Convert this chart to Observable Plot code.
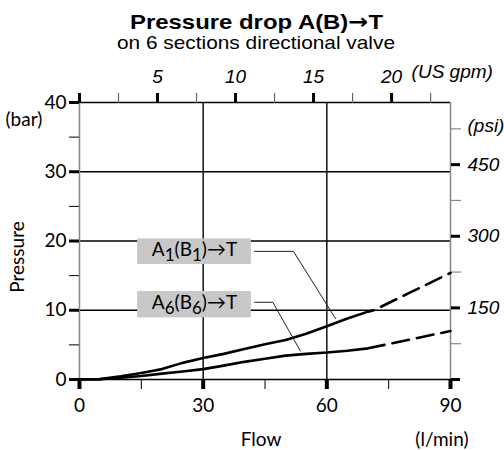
<!DOCTYPE html>
<html>
<head>
<meta charset="utf-8">
<script src="https://cdn.jsdelivr.net/npm/d3@7"></script>
<script src="https://cdn.jsdelivr.net/npm/@observablehq/plot@0.6"></script>
<style>
  html, body { margin: 0; padding: 0; background: #fff; }
  #wrap { position: relative; width: 504px; height: 450px; overflow: hidden; background: #fff; }
  .ttl { position: absolute; white-space: nowrap; transform-origin: 0 0; color: #000; line-height: 1; }
  #title { font: bold 21px "Liberation Sans", Arial, sans-serif; top: 9.5px; }
  #title .arr { font-family: "DejaVu Sans", sans-serif; font-weight: bold; }
  #subtitle { font: 19px "Liberation Sans", Arial, sans-serif; top: 32px; }
  #chart { position: absolute; left: 0; top: 62px; }
</style>
</head>
<body>
<div id="wrap">
  <span id="title" class="ttl">Pressure drop A(B)<span class="arr">→</span>T</span>
  <span id="subtitle" class="ttl">on 6 sections directional valve</span>
  <div id="chart"></div>
</div>
<script>
// ---- data ----
const flowA1 = [0, 5, 10, 15, 20, 25, 30, 35, 40, 45, 50, 55, 60, 65, 70, 71.4];
const dropA1 = [0, 0.05, 0.45, 0.95, 1.5, 2.4, 3.1, 3.7, 4.4, 5.1, 5.7, 6.6, 7.7, 8.8, 9.8, 10.0];
const flowA1Dashed = [71.4, 80, 90];
const dropA1Dashed = [10.0, 12.5, 15.4];

const flowA6 = [0, 5, 10, 15, 20, 25, 30, 35, 40, 45, 50, 55, 60, 65, 70, 74];
const dropA6 = [0, 0.05, 0.25, 0.5, 0.85, 1.15, 1.5, 2.0, 2.55, 3.0, 3.45, 3.7, 3.9, 4.15, 4.5, 5.0];
const flowA6Dashed = [74, 82, 90];
const dropA6Dashed = [5.0, 6.0, 7.0];

// axis ticks
const flowMajor = [0, 30, 60, 90];
const flowMinor = [15, 45, 75];
const barMajor = [0, 10, 20, 30, 40];
const barMinor = [5, 15, 25, 35];
const gridBar = [10, 20, 30, 40];
const gridFlow = [30, 60];
const gpmMajor = [0, 5, 10, 15, 20];
const gpmMinor = [2.5, 7.5, 12.5, 17.5, 22.5];
const psiMajor = [0, 150, 300, 450];
const psiMinor = [75, 225, 375, 525];
const LPM_PER_GPM = 3.78541;
const PSI_PER_BAR = 14.5038;

// curve labels (annotation boxes in data units)
const labelParts = [["A", "1", "(B", "1", ")→T"], ["A", "6", "(B", "6", ")→T"]];
const labelFlow1 = [14.1, 14.1];
const labelFlow2 = [41.7, 41.7];
const labelBarTop = [20.3, 12.7];
const labelBarBottom = [16.6, 8.9];
const leaderA1Flow = [42.5, 51.9, 62.1];
const leaderA1Bar = [18.5, 18.5, 8.8];
const leaderA6Flow = [42.5, 46.9, 53.6];
const leaderA6Bar = [11.15, 11.15, 4.1];

// ---- tables built from arrays ----
const zip = (xs, ys) => xs.map((x, i) => ({x, y: ys[i]}));
const a1 = zip(flowA1, dropA1), a1d = zip(flowA1Dashed, dropA1Dashed);
const a6 = zip(flowA6, dropA6), a6d = zip(flowA6Dashed, dropA6Dashed);
const lead1 = zip(leaderA1Flow, leaderA1Bar), lead6 = zip(leaderA6Flow, leaderA6Bar);
const labels = labelParts.map((p, i) => ({
  text: p.join(""), parts: p,
  x1: labelFlow1[i], x2: labelFlow2[i], y1: labelBarTop[i], y2: labelBarBottom[i]
}));

const sans = "Lato, 'Open Sans', sans-serif";
const ital = "'Liberation Sans', Arial, sans-serif";

const chart = Plot.plot({
  width: 504, height: 388,
  marginLeft: 79, marginRight: 54, marginTop: 40, marginBottom: 71,
  x: {domain: [0, 90]},
  y: {domain: [0, 40]},
  style: {fontFamily: sans, fontSize: "19px", color: "black", background: "white", overflow: "visible"},
  marks: [
    // grid
    Plot.ruleY(gridBar, {stroke: "black", strokeWidth: 1.4}),
    Plot.ruleX(gridFlow, {stroke: "black", strokeWidth: 1.4}),
    Plot.ruleX([0, 90], {stroke: "#888", strokeWidth: 1.5}),
    Plot.ruleY([0], {stroke: "black", strokeWidth: 1.4, insetLeft: -10, insetRight: -10}),
    // left axis
    Plot.axisY({ticks: barMinor, tickSize: 10, strokeWidth: 1, tickFormat: () => "", label: null}),
    Plot.axisY({ticks: barMajor, tickSize: 10, strokeWidth: 3, tickPadding: 3, label: null,
      fontFamily: sans, fontSize: 19}),
    // bottom axis
    Plot.axisX({ticks: flowMinor, tickSize: 10, strokeWidth: 1, tickFormat: () => "", label: null}),
    Plot.axisX({ticks: flowMajor, tickSize: 10, strokeWidth: 4, tickPadding: 9, label: null,
      fontFamily: sans, fontSize: 19}),
    // top axis (US gpm)
    Plot.axisX({anchor: "top", ticks: gpmMinor.map(g => g * LPM_PER_GPM), tickSize: 10, stroke: "#666",
      strokeWidth: 1.2, tickFormat: () => "", label: null}),
    Plot.axisX({anchor: "top", ticks: gpmMajor.map(g => g * LPM_PER_GPM), tickSize: 10, strokeWidth: 3,
      tickPadding: 10, label: null, fontFamily: ital, fontStyle: "italic", fontSize: 19,
      tickFormat: d => { const g = Math.round(d / LPM_PER_GPM); return g === 0 ? "" : String(g); }}),
    Plot.text(["(US gpm)"], {x: 20 * LPM_PER_GPM, y: 40, dx: 20, dy: -25, textAnchor: "start",
      lineAnchor: "bottom", fontFamily: ital, fontStyle: "italic", fontSize: 19}),
    // right axis (psi)
    Plot.axisY({anchor: "right", ticks: psiMinor.map(p => p / PSI_PER_BAR), tickSize: 10, stroke: "#888",
      strokeWidth: 1.2, tickFormat: () => "", label: null}),
    Plot.axisY({anchor: "right", ticks: psiMajor.map(p => p / PSI_PER_BAR), tickSize: 9, strokeWidth: 3,
      tickPadding: 8, label: null, fontFamily: ital, fontStyle: "italic", fontSize: 19,
      tickFormat: d => { const p = Math.round(d * PSI_PER_BAR); return p === 0 ? "" : String(p); }}),
    Plot.text(["(psi)"], {x: 90, y: psiMinor[3] / PSI_PER_BAR, dx: 17, dy: -3, textAnchor: "start",
      fontFamily: ital, fontStyle: "italic", fontSize: 19}),
    // axis titles
    Plot.text(["(bar)"], {x: 0, y: 40, dx: -74, dy: 17, textAnchor: "start", fontSize: 19}),
    Plot.text(["Pressure"], {frameAnchor: "left", textAnchor: "middle", lineAnchor: "middle",
      dx: -62, dy: 16, rotate: -90, fontSize: 19}),
    Plot.text(["Flow"], {frameAnchor: "bottom", dx: -4, dy: 66, fontSize: 19}),
    Plot.text(["(l/min)"], {x: 90, y: 0, dx: 18, dy: 66, textAnchor: "end", lineAnchor: "bottom", fontSize: 19}),
    // leaders
    Plot.line(lead1, {x: "x", y: "y", stroke: "#222", strokeWidth: 1}),
    Plot.line(lead6, {x: "x", y: "y", stroke: "#222", strokeWidth: 1}),
    // curves
    Plot.line(a1, {x: "x", y: "y", stroke: "black", strokeWidth: 2.6}),
    Plot.line(a1d, {x: "x", y: "y", stroke: "black", strokeWidth: 2.6, strokeDasharray: "17,8", strokeDashoffset: 17}),
    Plot.line(a6, {x: "x", y: "y", stroke: "black", strokeWidth: 2.6}),
    Plot.line(a6d, {x: "x", y: "y", stroke: "black", strokeWidth: 2.6, strokeDasharray: "17,8", strokeDashoffset: 17}),
    // labels
    Plot.rect(labels, {x1: "x1", x2: "x2", y1: "y1", y2: "y2", fill: "#c8c8c8"}),
    Plot.text(labels, {x: d => (d.x1 + d.x2) / 2, y: d => (d.y1 + d.y2) / 2, text: "text",
      fontSize: 19, fill: "black", className: "curve-label", dy: -2})
  ]
});
document.getElementById("chart").appendChild(chart);

// subscripts in the curve labels
d3.select(chart).selectAll(".curve-label text").each(function(d, i) {
  const lab = labels[i];
  const t = d3.select(this);
  t.text(null);
  lab.parts.forEach((p, k) => {
    const sub = k % 2 === 1;
    const ts = t.append("tspan").text(p);
    if (sub) ts.attr("dy", 5).attr("font-size", "17px");
    else if (k > 0) ts.attr("dy", -5);
  });
});

// fit title widths to reference
function fit(id, left, width) {
  const el = document.getElementById(id);
  const w = el.getBoundingClientRect().width;
  el.style.left = left + "px";
  el.style.transform = `scaleX(${width / w})`;
}
fit("title", 130, 253);
fit("subtitle", 117, 278);
</script>
</body>
</html>
